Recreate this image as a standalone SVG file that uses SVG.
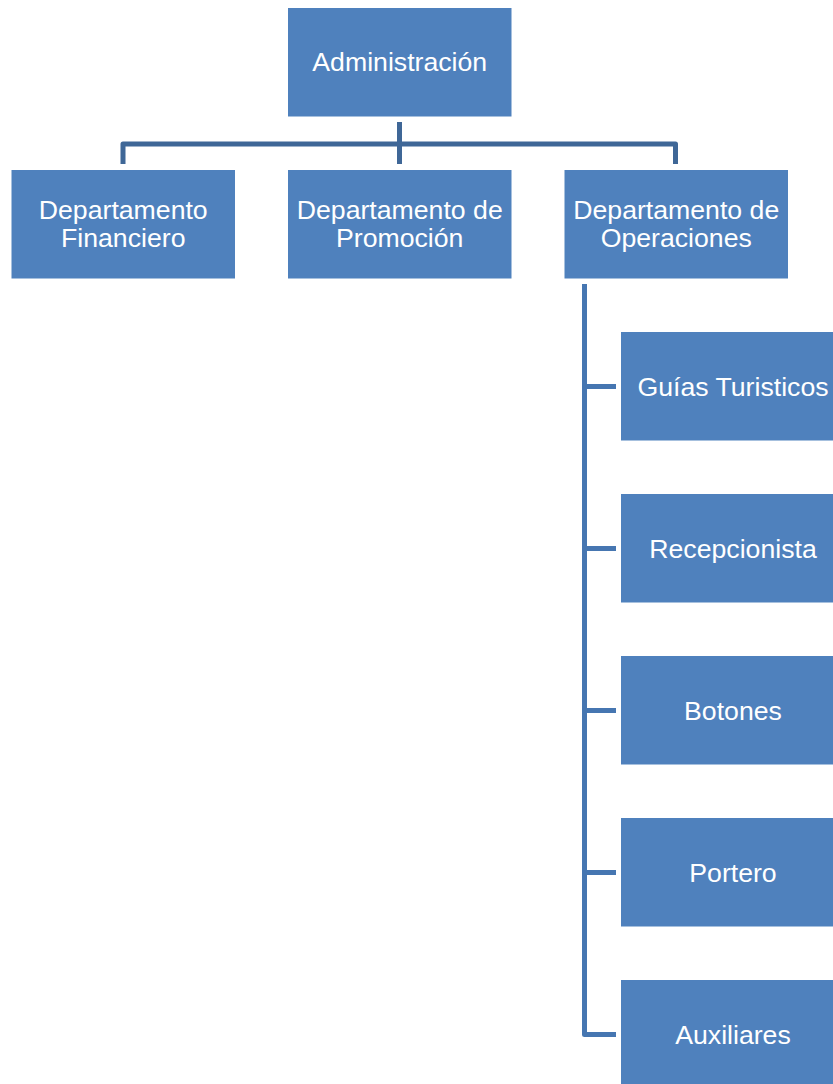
<svg xmlns="http://www.w3.org/2000/svg" width="833" height="1084" viewBox="0 0 833 1084">
<style>
.box{fill:#4F81BD;}
.t{font-family:"Liberation Sans",Arial,sans-serif;font-size:26.67px;fill:#FFFFFF;text-anchor:middle;}
.c1{fill:none;stroke:#3F6797;stroke-width:5;stroke-linejoin:round;}
.c2{fill:none;stroke:#4676B1;stroke-width:5;stroke-linejoin:round;}
</style>
<rect width="833" height="1084" fill="#FFFFFF"/>
<g id="connectors">
<path class="c1" d="M399.5,122 V164"/>
<path class="c1" d="M123,164 V144 H675.5 V164"/>
<path class="c2" d="M584.5,284 V1034.5 H616"/>
<path class="c2" d="M584.5,386.5 H616"/>
<path class="c2" d="M584.5,548.5 H616"/>
<path class="c2" d="M584.5,710.5 H616"/>
<path class="c2" d="M584.5,872.5 H616"/>
</g>
<g id="administracion">
<rect class="box" x="288" y="8" width="223.5" height="108.5"/>
<text class="t" x="399.75" y="71">Administración</text>
</g>
<g id="financiero">
<rect class="box" x="11.5" y="170" width="223.5" height="108.5"/>
<text class="t" x="123.25" y="219">Departamento</text>
<text class="t" x="123.25" y="247">Financiero</text>
</g>
<g id="promocion">
<rect class="box" x="288" y="170" width="223.5" height="108.5"/>
<text class="t" x="399.75" y="219">Departamento de</text>
<text class="t" x="399.75" y="247">Promoción</text>
</g>
<g id="operaciones">
<rect class="box" x="564.5" y="170" width="223.5" height="108.5"/>
<text class="t" x="676.25" y="219">Departamento de</text>
<text class="t" x="676.25" y="247">Operaciones</text>
</g>
<g id="guias">
<rect class="box" x="621" y="332" width="224" height="108.5"/>
<text class="t" x="733" y="395.5">Guías Turisticos</text>
</g>
<g id="recepcionista">
<rect class="box" x="621" y="494" width="224" height="108.5"/>
<text class="t" x="733" y="557.5">Recepcionista</text>
</g>
<g id="botones">
<rect class="box" x="621" y="656" width="224" height="108.5"/>
<text class="t" x="733" y="719.5">Botones</text>
</g>
<g id="portero">
<rect class="box" x="621" y="818" width="224" height="108.5"/>
<text class="t" x="733" y="881.5">Portero</text>
</g>
<g id="auxiliares">
<rect class="box" x="621" y="980" width="224" height="108.5"/>
<text class="t" x="733" y="1043.5">Auxiliares</text>
</g>
</svg>
